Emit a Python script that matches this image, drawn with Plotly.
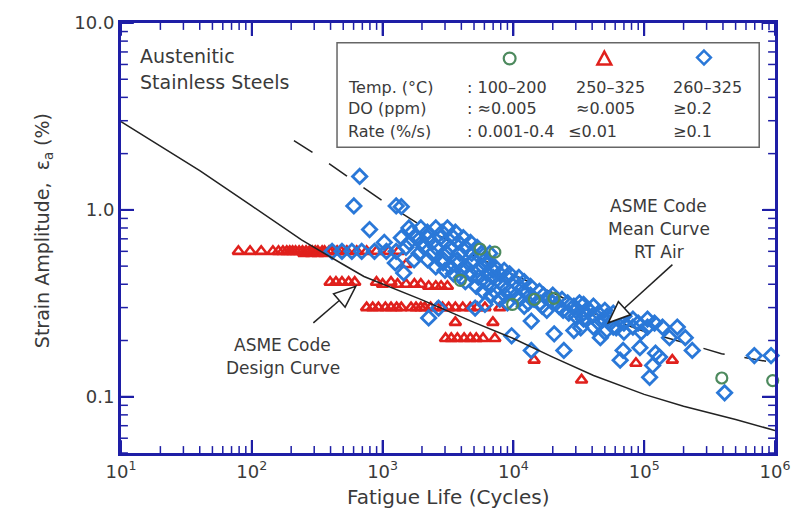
import math
import plotly.graph_objects as go

# ---------------- data ----------------
design_N = [10, 20, 40, 100, 240, 500, 720, 2000, 5000, 10000, 20000, 41000, 100000, 200000, 500000, 1000000]
design_e = [2.97, 2.19, 1.62, 1.05, 0.69, 0.51, 0.44, 0.33, 0.25, 0.205, 0.163, 0.13, 0.103, 0.089, 0.0755, 0.066]

mean_N = [210, 330, 530, 1070, 2000, 5000, 10000, 20000, 41000, 98000, 200000, 390000, 1000000]
mean_e = [2.35, 1.92, 1.52, 1.08, 0.82, 0.57, 0.45, 0.36, 0.28, 0.225, 0.195, 0.17, 0.152]

green_N = [3930, 5560, 7210, 9860, 14450, 20400, 392000, 960000]
green_e = [0.42, 0.616, 0.594, 0.312, 0.332, 0.336, 0.126, 0.122]

red_N = [79, 97, 118, 145, 160, 173, 185, 195, 205, 216, 230, 244, 260, 276, 290, 306, 320, 345, 360, 390,
         410, 449, 480, 533, 634, 755, 898, 1110, 1320,
         250, 285, 320, 360,
         397, 440, 489, 550, 612, 898, 1000, 1160, 1300, 1510, 1750, 1960, 2250, 2550, 2800, 3130,
         1510,
         755, 840, 929, 1050, 1160, 1280, 1390, 1650, 1800, 1960, 2100, 2330, 2600, 2870, 3200, 3600, 4100,
         4680, 5300, 6060, 7870,
         3600, 6970,
         3030, 3350, 3730, 4200, 4680, 5200, 5860, 7210,
         14400, 33200, 86500, 164000]
red_e = [0.6, 0.6, 0.6, 0.6, 0.6, 0.6, 0.6, 0.6, 0.6, 0.6, 0.6, 0.6, 0.6, 0.6, 0.6, 0.6, 0.6, 0.6, 0.6, 0.6,
         0.6, 0.6, 0.6, 0.6, 0.6, 0.6, 0.6, 0.6, 0.6,
         0.585, 0.585, 0.585, 0.585,
         0.41, 0.41, 0.41, 0.41, 0.41, 0.41, 0.40, 0.41, 0.40, 0.40, 0.40, 0.40, 0.39, 0.39, 0.39, 0.39,
         0.51,
         0.30, 0.30, 0.30, 0.30, 0.30, 0.30, 0.30, 0.30, 0.30, 0.30, 0.30, 0.30, 0.30, 0.30, 0.30, 0.30, 0.30,
         0.30, 0.30, 0.30, 0.30,
         0.25, 0.25,
         0.205, 0.205, 0.205, 0.205, 0.205, 0.205, 0.205, 0.205,
         0.157, 0.123, 0.151, 0.157]

blue_N = [668, 603, 795, 1030, 1270, 1390,
          411, 489, 582, 692, 867, 1070, 1270,
          1250, 1450,
          1590, 1960, 2550, 3130,
          1680, 2200, 2850, 3600,
          1390, 1800, 2210, 2770, 3480, 4140,
          1600, 2000, 2400, 3000, 3800, 4700,
          1510, 2070, 2550, 3300, 4290, 5280,
          1900, 2400, 3100, 3900, 4800, 5700, 6600,
          1740, 2210, 2920, 3730, 4920, 6060,
          2900, 3800, 4800, 6500,
          2550, 3300, 4290, 5860, 7210,
          3000, 4000, 5300, 7000, 8500,
          3480, 4680, 6280, 7870, 9360,
          4000, 5400, 7000, 9000, 11000,
          4290, 6060, 7870, 10200, 12100,
          5200, 6600, 8500, 11000, 13500,
          5860, 7210, 9360, 12100, 15800,
          6800, 8600, 10500, 13500, 17000, 20000,
          7870, 11100, 14400, 18700, 23500,
          9000, 13000, 16000, 20000, 26000, 32000,
          12100, 16600, 22300, 29000, 40900,
          18000, 24000, 30000, 38000, 50000,
          26500, 34400, 44600, 58000,
          30000, 40000, 52000, 70000,
          34400, 48700, 63200, 82000, 106000,
          45000, 55000, 70000, 90000, 120000,
          40900, 58000, 82000, 106000, 138000, 179000,
          50000, 70000, 95000,
          2250, 2680, 5100, 6060, 9690, 13700, 13700, 20500, 24300, 29000, 34400, 32700,
          46200, 61100, 65500, 69000, 92700, 110000, 116000, 122000, 131000, 156000,
          206000, 233000, 412000, 695000, 933000]
blue_e = [1.51, 1.05, 0.785, 0.67, 1.05, 1.04,
          0.6, 0.6, 0.6, 0.6, 0.6, 0.6, 0.6,
          0.52, 0.46,
          0.80, 0.80, 0.80, 0.80,
          0.76, 0.76, 0.76, 0.76,
          0.71, 0.71, 0.71, 0.71, 0.71, 0.71,
          0.67, 0.67, 0.67, 0.67, 0.67, 0.67,
          0.63, 0.63, 0.63, 0.63, 0.63, 0.63,
          0.585, 0.585, 0.585, 0.585, 0.585, 0.585, 0.585,
          0.54, 0.54, 0.54, 0.54, 0.54, 0.54,
          0.52, 0.52, 0.52, 0.52,
          0.495, 0.495, 0.495, 0.495, 0.495,
          0.475, 0.475, 0.475, 0.475, 0.475,
          0.455, 0.455, 0.455, 0.455, 0.455,
          0.435, 0.435, 0.435, 0.435, 0.435,
          0.413, 0.413, 0.413, 0.413, 0.413,
          0.39, 0.39, 0.39, 0.39, 0.39,
          0.366, 0.366, 0.366, 0.366, 0.366,
          0.35, 0.35, 0.35, 0.35, 0.35, 0.35,
          0.332, 0.332, 0.332, 0.332, 0.332,
          0.318, 0.318, 0.318, 0.318, 0.318, 0.318,
          0.305, 0.305, 0.305, 0.305, 0.305,
          0.29, 0.29, 0.29, 0.29, 0.29,
          0.28, 0.28, 0.28, 0.28,
          0.27, 0.27, 0.27, 0.27,
          0.26, 0.26, 0.26, 0.26, 0.26,
          0.248, 0.248, 0.248, 0.248, 0.248,
          0.236, 0.236, 0.236, 0.236, 0.236, 0.236,
          0.222, 0.222, 0.222,
          0.264, 0.298, 0.298, 0.312, 0.212, 0.254, 0.177, 0.217, 0.177, 0.226, 0.312, 0.234,
          0.207, 0.234, 0.157, 0.177, 0.183, 0.127, 0.147, 0.171, 0.163, 0.207,
          0.207, 0.177, 0.105, 0.166, 0.166]

x_tickvals = [10, 100, 1000, 10000, 100000, 1000000]
x_ticktext = ["10<sup>1</sup>", "10<sup>2</sup>", "10<sup>3</sup>", "10<sup>4</sup>", "10<sup>5</sup>", "10<sup>6</sup>"]
y_tickvals = [0.1, 1, 10]
y_ticktext = ["0.1", "1.0", "10.0"]
x_minor = [m * d for d in [10, 100, 1000, 10000, 100000] for m in range(2, 10)]
y_minor = [m * d for d in [0.01, 0.1, 1] for m in range(2, 10) if m * d >= 0.05]

legend_rows = [
    ["Temp. (°C)", ": 100–200", "250–325", "260–325"],
    ["DO (ppm)", ": ≈0.005", "≈0.005", "≥0.2"],
    ["Rate (%/s)", ": 0.001-0.4", "≤0.01", "≥0.1"],
]

# ---------------- styling ----------------
W, H = 802, 518
L, R, T, B = 121, 18, 17, 65
PW, PH = W - L - R, H - T - B
FONT = "DejaVu Sans"
TXT = "#3a3a3a"
AX = "#1e1ea6"
BLUE = "#2a78d8"
RED = "#e0201c"
GREEN = "#4d8a5e"
XR = [1, 6]
YR = [-1.301, 1]


def px(x):
    return (x - L) / PW


def py(y):
    return (H - B - y) / PH


def xfrac(v):  # axis fraction for a tick value on the log x axis
    return (math.log10(v) - XR[0]) / (XR[1] - XR[0])


def yfrac(v):
    return (math.log10(v) - YR[0]) / (YR[1] - YR[0])


fig = go.Figure()
fig.add_trace(go.Scatter(x=mean_N, y=mean_e, mode="lines",
                         line=dict(color="#222", width=1.5, dash="22px,20px"), showlegend=False))
fig.add_trace(go.Scatter(x=red_N, y=red_e, mode="markers", cliponaxis=False,
                         marker=dict(symbol="triangle-up-open", size=10, color=RED, line=dict(width=2.6, color=RED)),
                         showlegend=False))
fig.add_trace(go.Scatter(x=blue_N, y=blue_e, mode="markers", cliponaxis=False,
                         marker=dict(symbol="diamond-open", size=11, color=BLUE, line=dict(width=2.8, color=BLUE)),
                         showlegend=False))
fig.add_trace(go.Scatter(x=green_N, y=green_e, mode="markers", cliponaxis=False,
                         marker=dict(symbol="circle-open", size=11, color=GREEN, line=dict(width=2.2, color=GREEN)),
                         showlegend=False))
fig.add_trace(go.Scatter(x=design_N, y=design_e, mode="lines", line=dict(color="#222", width=1.5),
                         showlegend=False))

shapes = []
# tick marks (inside, on all four sides)
for vals, ln, wd in [(x_tickvals, 13, 2), (x_minor, 7, 1.5)]:
    for v in vals:
        f = xfrac(v)
        shapes.append(dict(type="line", xref="paper", yref="paper", x0=f, x1=f, y0=0, y1=ln / PH,
                           line=dict(color=AX, width=wd), layer="above"))
        shapes.append(dict(type="line", xref="paper", yref="paper", x0=f, x1=f, y0=1 - ln / PH, y1=1,
                           line=dict(color=AX, width=wd), layer="above"))
for vals, ln, wd in [(y_tickvals, 13, 2), (y_minor, 7, 1.5)]:
    for v in vals:
        f = yfrac(v)
        shapes.append(dict(type="line", xref="paper", yref="paper", x0=0, x1=ln / PW, y0=f, y1=f,
                           line=dict(color=AX, width=wd), layer="above"))
        shapes.append(dict(type="line", xref="paper", yref="paper", x0=1 - ln / PW, x1=1, y0=f, y1=f,
                           line=dict(color=AX, width=wd), layer="above"))
# legend box
shapes.append(dict(type="rect", xref="paper", yref="paper", x0=px(340), x1=px(768), y0=py(143), y1=py(37),
                   line=dict(color="#666", width=1.5), fillcolor="white", layer="below"))
# legend symbols
shapes.append(dict(type="circle", xref="paper", yref="paper", x0=px(509), x1=px(521), y0=py(59), y1=py(47),
                   line=dict(color=GREEN, width=2.2)))
shapes.append(dict(type="path", xref="paper", yref="paper",
                   path=f"M {px(611)},{py(46)} L {px(604)},{py(59)} L {px(618)},{py(59)} Z",
                   line=dict(color=RED, width=2.5)))
shapes.append(dict(type="path", xref="paper", yref="paper",
                   path=f"M {px(712)},{py(45)} L {px(719)},{py(52)} L {px(712)},{py(59)} L {px(705)},{py(52)} Z",
                   line=dict(color=BLUE, width=2.5)))


def hollow_arrow(tail, tip, hl=22, hw=9):
    dx, dy = tip[0] - tail[0], tip[1] - tail[1]
    n = (dx * dx + dy * dy) ** 0.5
    ux, uy = dx / n, dy / n
    bx, by = tip[0] - hl * ux, tip[1] - hl * uy
    pxv, pyv = -uy * hw, ux * hw
    out = [dict(type="line", xref="paper", yref="paper", x0=px(tail[0]), y0=py(tail[1]), x1=px(bx), y1=py(by),
                line=dict(color="#222", width=1.5))]
    out.append(dict(type="path", xref="paper", yref="paper",
                    path=f"M {px(tip[0])},{py(tip[1])} L {px(bx + pxv)},{py(by + pyv)} L {px(bx - pxv)},{py(by - pyv)} Z",
                    line=dict(color="#222", width=1.5), fillcolor="white"))
    return out


shapes += hollow_arrow((680, 262), (615, 321))
shapes += hollow_arrow((316, 321), (359, 284))

ann = []
ann.append(dict(x=px(138), y=py(50), xref="paper", yref="paper", text="Austenitic", showarrow=False,
                xanchor="left", yanchor="middle", font=dict(size=19, color=TXT, family=FONT)))
ann.append(dict(x=px(138), y=py(77), xref="paper", yref="paper", text="Stainless Steels", showarrow=False,
                xanchor="left", yanchor="middle", font=dict(size=19, color=TXT, family=FONT)))
col_x = [349, 470, 580, 679]
row_y = [82, 104, 127]
for r, row in enumerate(legend_rows):
    for c, t in enumerate(row):
        xx = col_x[c]
        if r == 2 and c == 2:
            xx = 572
        ann.append(dict(x=px(xx), y=py(row_y[r]), xref="paper", yref="paper", text=t, showarrow=False,
                        xanchor="left", yanchor="middle", font=dict(size=16, color=TXT, family=FONT)))
for i, t in enumerate(["ASME Code", "Mean Curve", "RT Air"]):
    ann.append(dict(x=px(666), y=py(203 + 23 * i), xref="paper", yref="paper", text=t, showarrow=False,
                    xanchor="center", yanchor="middle", font=dict(size=17, color=TXT, family=FONT)))
for i, t in enumerate(["ASME Code", "Design Curve"]):
    ann.append(dict(x=px(285), y=py(343 + 24 * i), xref="paper", yref="paper", text=t, showarrow=False,
                    xanchor="center", yanchor="middle", font=dict(size=17, color=TXT, family=FONT)))
ann.append(dict(x=px(452), y=py(498), xref="paper", yref="paper", text="Fatigue Life (Cycles)", showarrow=False,
                xanchor="center", yanchor="middle", font=dict(size=20, color=TXT, family=FONT)))
ann.append(dict(x=px(42), y=py(228), xref="paper", yref="paper", text="Strain Amplitude,  ε<sub>a</sub> (%)",
                showarrow=False, textangle=-90, xanchor="center", yanchor="middle",
                font=dict(size=19, color=TXT, family=FONT)))

axis_common = dict(showline=True, linecolor=AX, linewidth=3, mirror="allticks", ticks="inside",
                   ticklen=13, tickwidth=2, tickcolor=AX, showgrid=False, zeroline=False,
                   tickfont=dict(size=18, color=TXT, family=FONT))

fig.update_xaxes(type="log", range=XR, tickmode="array", tickvals=x_tickvals, ticktext=x_ticktext,
                 **axis_common)
fig.update_yaxes(type="log", range=YR, tickmode="array", tickvals=y_tickvals, ticktext=y_ticktext,
                 **axis_common)

fig.update_layout(width=W, height=H, margin=dict(l=L, r=R, t=T, b=B), plot_bgcolor="white",
                  paper_bgcolor="white", shapes=shapes, annotations=ann, showlegend=False,
                  font=dict(family=FONT, color=TXT))

fig.write_html("out.html")
